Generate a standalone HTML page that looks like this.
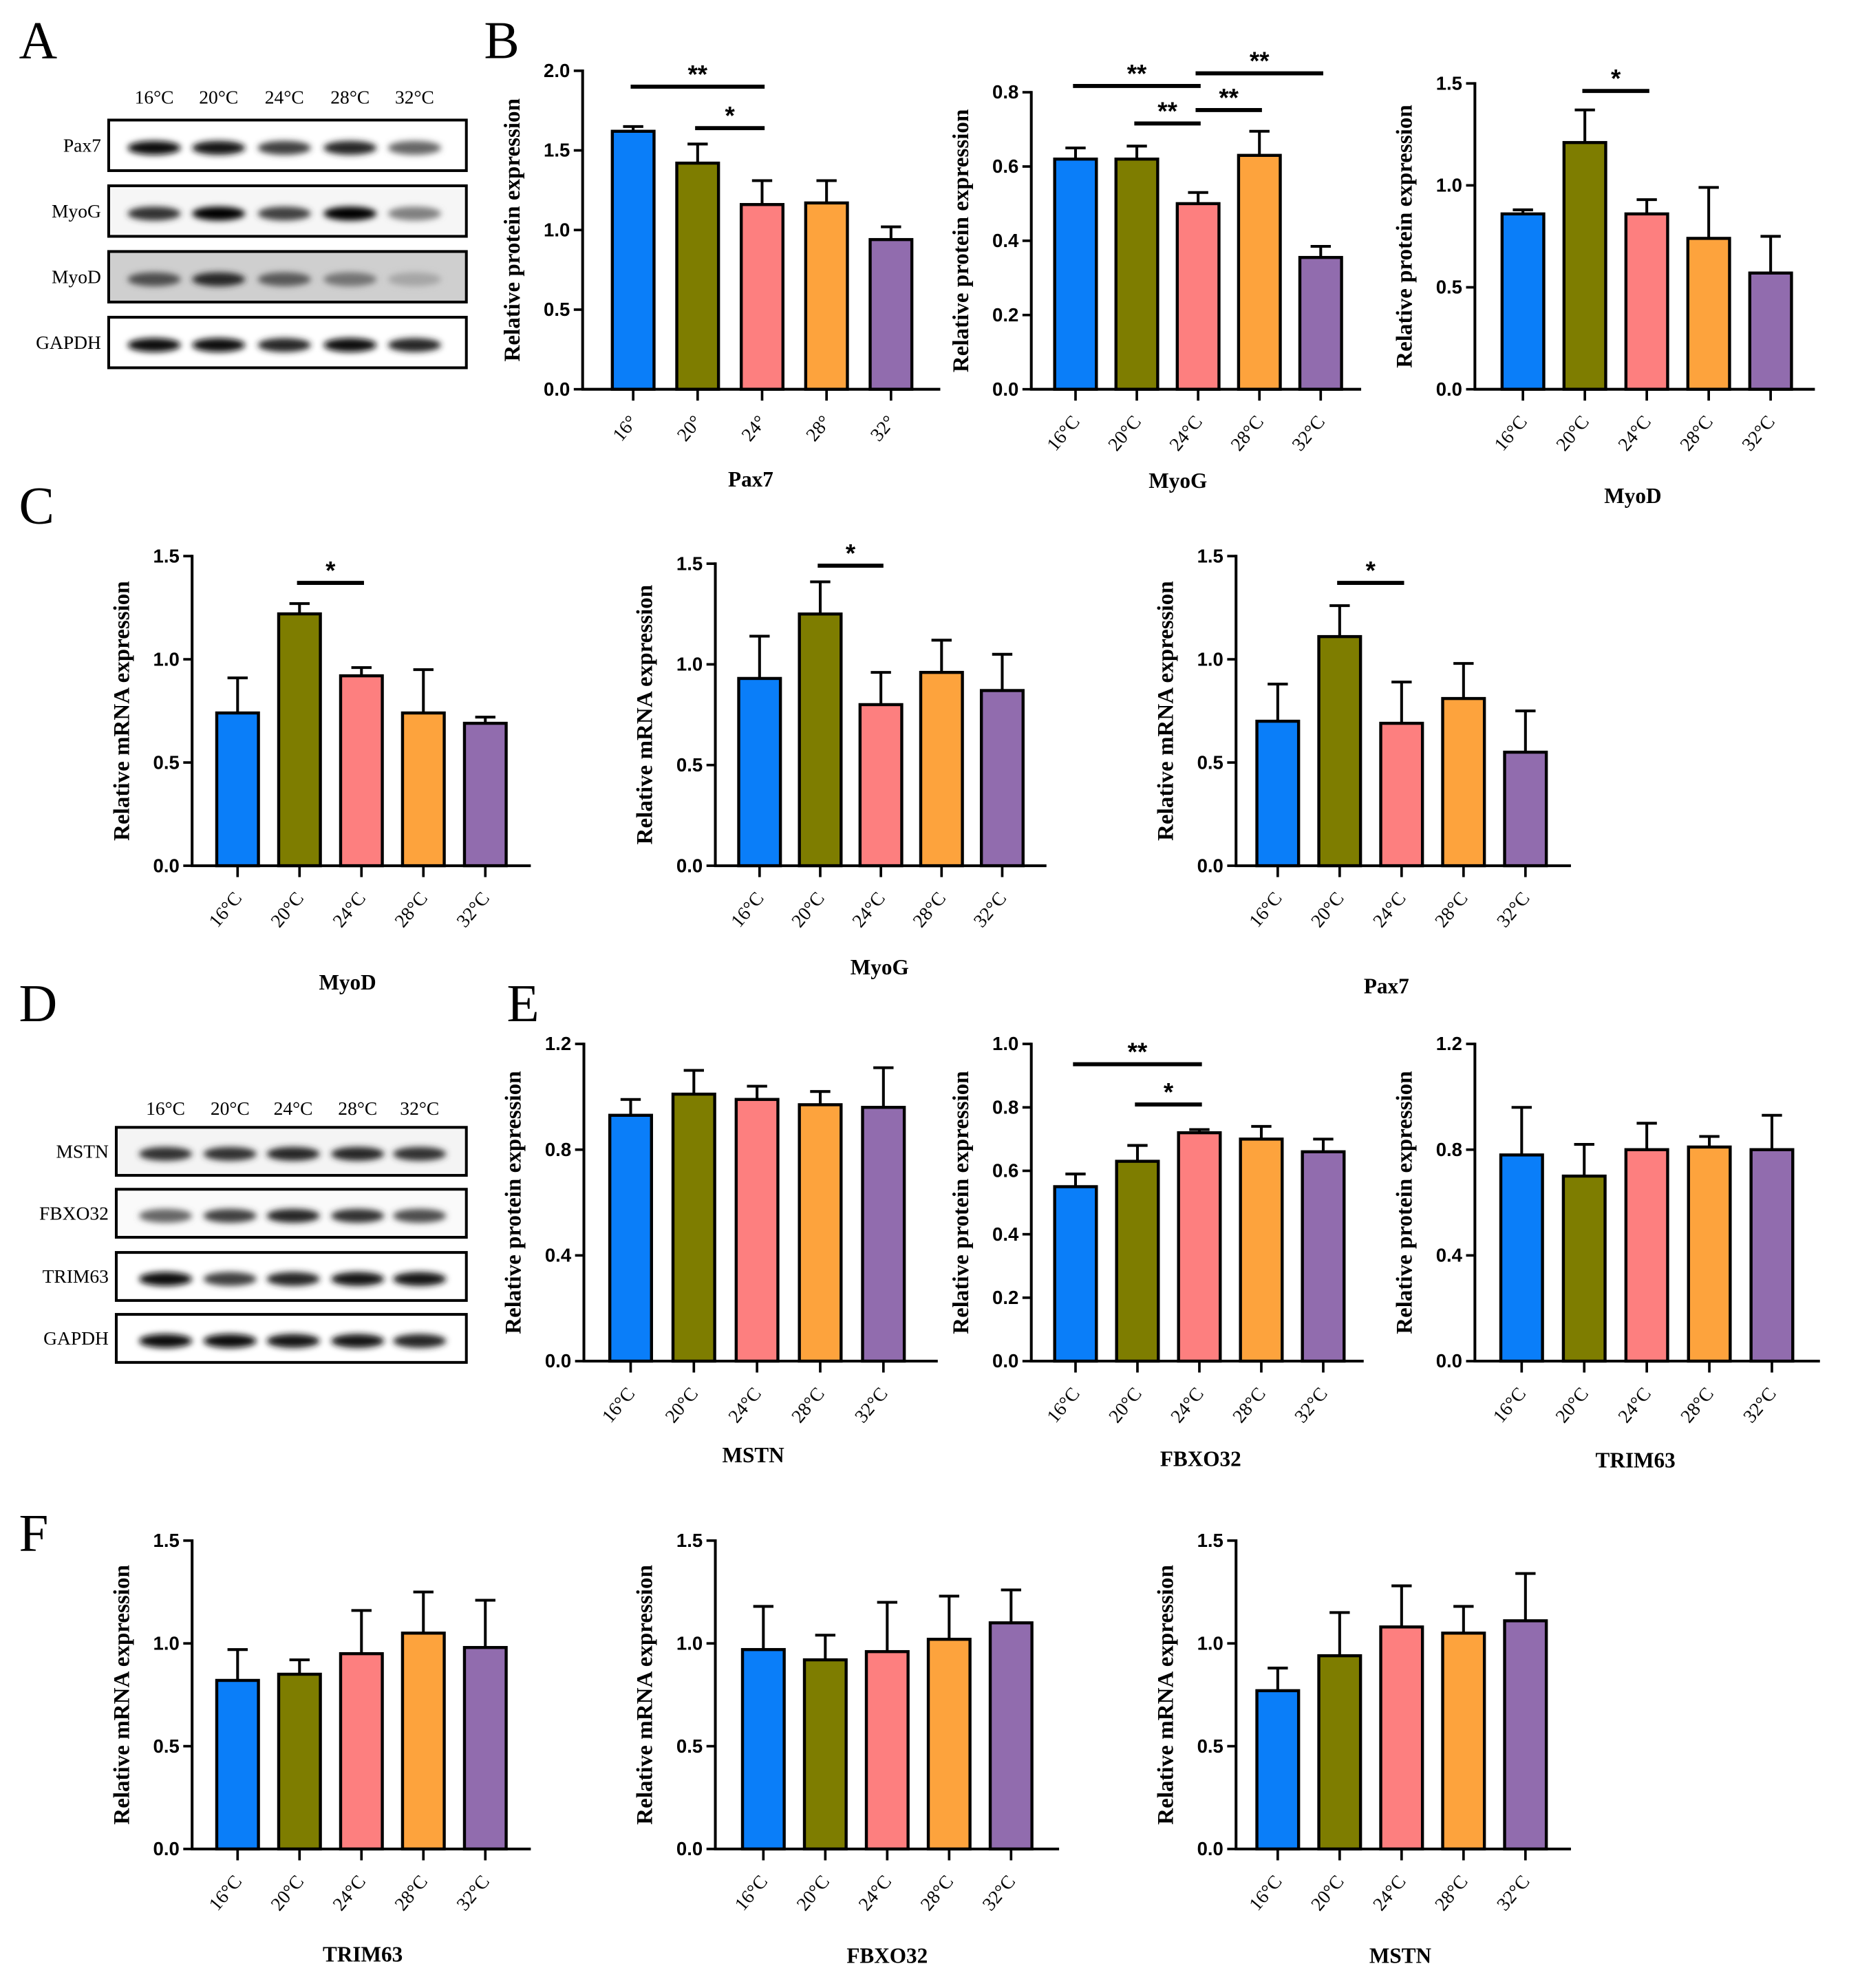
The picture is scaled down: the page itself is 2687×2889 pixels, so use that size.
<!DOCTYPE html>
<html><head><meta charset="utf-8"><style>
html,body{margin:0;padding:0;background:#fff;}
svg{display:block;}
.tk{font-family:"Liberation Sans",sans-serif;font-weight:bold;font-size:15px;}
.xl{font-family:"Liberation Serif",serif;font-size:15px;}
.yt{font-family:"Liberation Serif",serif;font-weight:bold;font-size:18px;}
.ct{font-family:"Liberation Serif",serif;font-weight:bold;font-size:17px;}
.pl{font-family:"Liberation Serif",serif;font-size:42px;}
.bl{font-family:"Liberation Serif",serif;font-size:15px;}
.st{font-family:"Liberation Sans",sans-serif;font-weight:bold;font-size:20px;}
</style></head><body>
<svg id="fig" width="2687" height="2889" viewBox="0 0 1463 1573" preserveAspectRatio="none" xmlns="http://www.w3.org/2000/svg">
<defs><filter id="blur" x="-20%" y="-50%" width="140%" height="200%"><feGaussianBlur stdDeviation="2.5"/></filter></defs>
<text class="pl" x="15" y="46">A</text>
<text class="pl" x="383" y="46">B</text>
<text class="pl" x="15" y="414">C</text>
<text class="pl" x="15" y="808">D</text>
<text class="pl" x="401" y="808">E</text>
<text class="pl" x="15" y="1227">F</text>
</svg>
<script>
const temps = ["16°C","20°C","24°C","28°C","32°C"];
const tempsShort = ["16°","20°","24°","28°","32°"];
const colors = ["#0a7ef9","#7e7d00","#fd7f7f","#fda33d","#916cae"];

// Panel B (protein)
const bPax7Vals = [1.62,1.42,1.16,1.17,0.94];
const bPax7Errs = [0.03,0.12,0.15,0.14,0.08];
const bMyoGVals = [0.62,0.62,0.50,0.63,0.355];
const bMyoGErrs = [0.03,0.035,0.03,0.065,0.03];
const bMyoDVals = [0.86,1.21,0.86,0.74,0.57];
const bMyoDErrs = [0.02,0.16,0.07,0.25,0.18];
// Panel C (mRNA)
const cMyoDVals = [0.74,1.22,0.92,0.74,0.69];
const cMyoDErrs = [0.17,0.05,0.04,0.21,0.03];
const cMyoGVals = [0.93,1.25,0.80,0.96,0.87];
const cMyoGErrs = [0.21,0.16,0.16,0.16,0.18];
const cPax7Vals = [0.70,1.11,0.69,0.81,0.55];
const cPax7Errs = [0.18,0.15,0.20,0.17,0.20];
// Panel E (protein)
const eMSTNVals = [0.93,1.01,0.99,0.97,0.96];
const eMSTNErrs = [0.06,0.09,0.05,0.05,0.15];
const eFBXOVals = [0.55,0.63,0.72,0.70,0.66];
const eFBXOErrs = [0.04,0.05,0.01,0.04,0.04];
const eTRIMVals = [0.78,0.70,0.80,0.81,0.80];
const eTRIMErrs = [0.18,0.12,0.10,0.04,0.13];
// Panel F (mRNA)
const fTRIMVals = [0.82,0.85,0.95,1.05,0.98];
const fTRIMErrs = [0.15,0.07,0.21,0.20,0.23];
const fFBXOVals = [0.97,0.92,0.96,1.02,1.10];
const fFBXOErrs = [0.21,0.12,0.24,0.21,0.16];
const fMSTNVals = [0.77,0.94,1.08,1.05,1.11];
const fMSTNErrs = [0.11,0.21,0.20,0.13,0.23];

// Blot band intensities (0-1)
const blotA = {rows:["Pax7","MyoG","MyoD","GAPDH"],
  intens:[[0.95,0.9,0.75,0.85,0.6],[0.8,1,0.75,1,0.5],[0.7,0.85,0.65,0.55,0.35],[0.95,0.95,0.85,0.95,0.85]]};
const blotD = {rows:["MSTN","FBXO32","TRIM63","GAPDH"],
  intens:[[0.8,0.8,0.85,0.85,0.8],[0.6,0.75,0.85,0.8,0.7],[0.95,0.75,0.85,0.9,0.9],[0.95,0.95,0.9,0.9,0.85]]};

const NS="http://www.w3.org/2000/svg";
const svg=document.getElementById('fig');
function mk(tag,attrs,parent){const e=document.createElementNS(NS,tag);for(const k in attrs)e.setAttribute(k,attrs[k]);(parent||svg).appendChild(e);return e;}

function chart(cfg){
  const g=mk('g',{});
  
  
  const y=v=>cfg.y0-(v/cfg.ymax)*(cfg.y0-cfg.ytop);
  const xc=i=>cfg.ax+cfg.off+i*cfg.step;
  const bw=33;
  cfg.vals.forEach((v,i)=>{
    const top=y(v+cfg.errs[i]);
    const el=mk('line',{x1:xc(i),x2:xc(i),y1:y(v),y2:top,stroke:'#000','stroke-width':2.2},g);
    
    
    const cap=mk('line',{x1:xc(i)-8,x2:xc(i)+8,y1:top,y2:top,stroke:'#000','stroke-width':2.2},g);
    
    
    const r=mk('rect',{x:xc(i)-bw/2,y:y(v),width:bw,height:cfg.y0-y(v),fill:colors[i],stroke:'#000','stroke-width':2.4},g);
    
    
    mk('line',{x1:xc(i),x2:xc(i),y1:cfg.y0,y2:cfg.y0+9,stroke:'#000','stroke-width':2},g);
    const t=mk('text',{class:'xl',x:xc(i)+4,y:cfg.y0+26,'text-anchor':'end',transform:`rotate(-50 ${xc(i)+4} ${cfg.y0+26})`},g);
    t.textContent=(cfg.short?tempsShort:temps)[i];
    
    
  });
  const ya=mk('line',{x1:cfg.ax,x2:cfg.ax,y1:cfg.ytop-1,y2:cfg.y0+1,stroke:'#000','stroke-width':2.2},g);
  
  
  const xa=mk('line',{x1:cfg.ax-1,x2:cfg.xend,y1:cfg.y0,y2:cfg.y0,stroke:'#000','stroke-width':2.2},g);
  
  
  for(let v=0;v<=cfg.ymax+1e-9;v+=cfg.tstep){
    mk('line',{x1:cfg.ax-7,x2:cfg.ax,y1:y(v),y2:y(v),stroke:'#000','stroke-width':2},g);
    const t=mk('text',{class:'tk',x:cfg.ax-10,y:y(v)+5,'text-anchor':'end'},g);
    t.textContent=v.toFixed(1);
    
    
  }
  const ym=(cfg.y0+cfg.ytop)/2;
  const yt=mk('text',{class:'yt',x:cfg.ax-50,y:ym,'text-anchor':'middle',transform:`rotate(-90 ${cfg.ax-50} ${ym})`},g);
  yt.textContent=cfg.ytitle;
  
  
  const ct=mk('text',{class:'ct',x:cfg.tx,y:cfg.ty,'text-anchor':'middle'},g);
  ct.textContent=cfg.title;
  
  
  (cfg.br||[]).forEach(b=>{
    const ly=y(b[2]);
    const l=mk('line',{x1:xc(b[0])-2,x2:xc(b[1])+2,y1:ly,y2:ly,stroke:'#000','stroke-width':3.2},g);
    
    
    const s=mk('text',{class:'st',x:(xc(b[0])+xc(b[1]))/2,y:ly-3,'text-anchor':'middle'},g);
    s.textContent=b[3];
    
    
  });
}
const PY="Relative protein expression", MY="Relative mRNA expression";
chart({name:'chart-b-pax7',vals:bPax7Vals,errs:bPax7Errs,ax:461,y0:308,ytop:56,ymax:2,tstep:0.5,off:40,step:51,xend:744,short:true,ytitle:PY,title:'Pax7',tx:594,ty:385,br:[[0,2,1.90,'**'],[1,2,1.64,'*']]});
chart({name:'chart-b-myog',vals:bMyoGVals,errs:bMyoGErrs,ax:816,y0:308,ytop:73,ymax:0.8,tstep:0.2,off:35,step:48.5,xend:1077,ytitle:PY,title:'MyoG',tx:932,ty:386,br:[[0,2,0.817,'**'],[1,2,0.716,'**'],[2,3,0.752,'**'],[2,4,0.851,'**']]});
chart({name:'chart-b-myod',vals:bMyoDVals,errs:bMyoDErrs,ax:1167,y0:308,ytop:66,ymax:1.5,tstep:0.5,off:38,step:49,xend:1436,ytitle:PY,title:'MyoD',tx:1292,ty:398,br:[[1,2,1.463,'*']]});
chart({name:'chart-c-myod',vals:cMyoDVals,errs:cMyoDErrs,ax:152,y0:685,ytop:440,ymax:1.5,tstep:0.5,off:36,step:49,xend:420,ytitle:MY,title:'MyoD',tx:275,ty:783,br:[[1,2,1.37,'*']]});
chart({name:'chart-c-myog',vals:cMyoGVals,errs:cMyoGErrs,ax:566,y0:685,ytop:446,ymax:1.5,tstep:0.5,off:35,step:48,xend:828,ytitle:MY,title:'MyoG',tx:696,ty:771,br:[[1,2,1.49,'*']]});
chart({name:'chart-c-pax7',vals:cPax7Vals,errs:cPax7Errs,ax:978,y0:685,ytop:440,ymax:1.5,tstep:0.5,off:33,step:49,xend:1243,ytitle:MY,title:'Pax7',tx:1097,ty:786,br:[[1,2,1.37,'*']]});
chart({name:'chart-e-mstn',vals:eMSTNVals,errs:eMSTNErrs,ax:462,y0:1077,ytop:826,ymax:1.2,tstep:0.4,off:37,step:50,xend:742,ytitle:PY,title:'MSTN',tx:596,ty:1157});
chart({name:'chart-e-fbxo32',vals:eFBXOVals,errs:eFBXOErrs,ax:816,y0:1077,ytop:826,ymax:1.0,tstep:0.2,off:35,step:49,xend:1079,ytitle:PY,title:'FBXO32',tx:950,ty:1160,br:[[0,2,0.936,'**'],[1,2,0.809,'*']]});
chart({name:'chart-e-trim63',vals:eTRIMVals,errs:eTRIMErrs,ax:1167,y0:1077,ytop:826,ymax:1.2,tstep:0.4,off:37,step:49.5,xend:1440,ytitle:PY,title:'TRIM63',tx:1294,ty:1161});
chart({name:'chart-f-trim63',vals:fTRIMVals,errs:fTRIMErrs,ax:152,y0:1463,ytop:1219,ymax:1.5,tstep:0.5,off:36,step:49,xend:420,ytitle:MY,title:'TRIM63',tx:287,ty:1552});
chart({name:'chart-f-fbxo32',vals:fFBXOVals,errs:fFBXOErrs,ax:566,y0:1463,ytop:1219,ymax:1.5,tstep:0.5,off:38,step:49,xend:838,ytitle:MY,title:'FBXO32',tx:702,ty:1553});
chart({name:'chart-f-mstn',vals:fMSTNVals,errs:fMSTNErrs,ax:978,y0:1463,ytop:1219,ymax:1.5,tstep:0.5,off:33,step:49,xend:1243,ytitle:MY,title:'MSTN',tx:1108,ty:1553});

function blot(b,name,x0,x1,rowsY,h,hdrY,lanes,bg){
  const g=mk('g',{});
  
  
  temps.forEach((t,i)=>{
    const e=mk('text',{class:'bl',x:lanes[i],y:hdrY,'text-anchor':'middle'},g);
    e.textContent=t;
    
    
  });
  b.rows.forEach((r,k)=>{
    const yy=rowsY[k];
    const box=mk('rect',{x:x0,y:yy,width:x1-x0,height:h,fill:bg[k],stroke:'#000','stroke-width':2.2},g);
    
    
    b.intens[k].forEach((v,i)=>{
      const c=Math.round(255*(1-v));
      mk('ellipse',{cx:lanes[i],cy:yy+h/2+2,rx:21,ry:5.5,fill:`rgb(${c},${c},${c})`,filter:'url(#blur)'},g);
    });
    const l=mk('text',{class:'bl',x:x0-6,y:yy+h/2+5,'text-anchor':'end'},g);
    l.textContent=r;
    
    
  });
}
blot(blotA,'western-blot-a',86,369,[95,147,199,251],40,82,[122,173,225,277,328],['#fff','#f6f6f6','#cfcfcf','#fff']);
blot(blotD,'western-blot-d',92,369,[892,941,991,1040],38,882,[131,182,232,283,332],['#f4f4f4','#fafafa','#fff','#fff']);
</script>
</body></html>
